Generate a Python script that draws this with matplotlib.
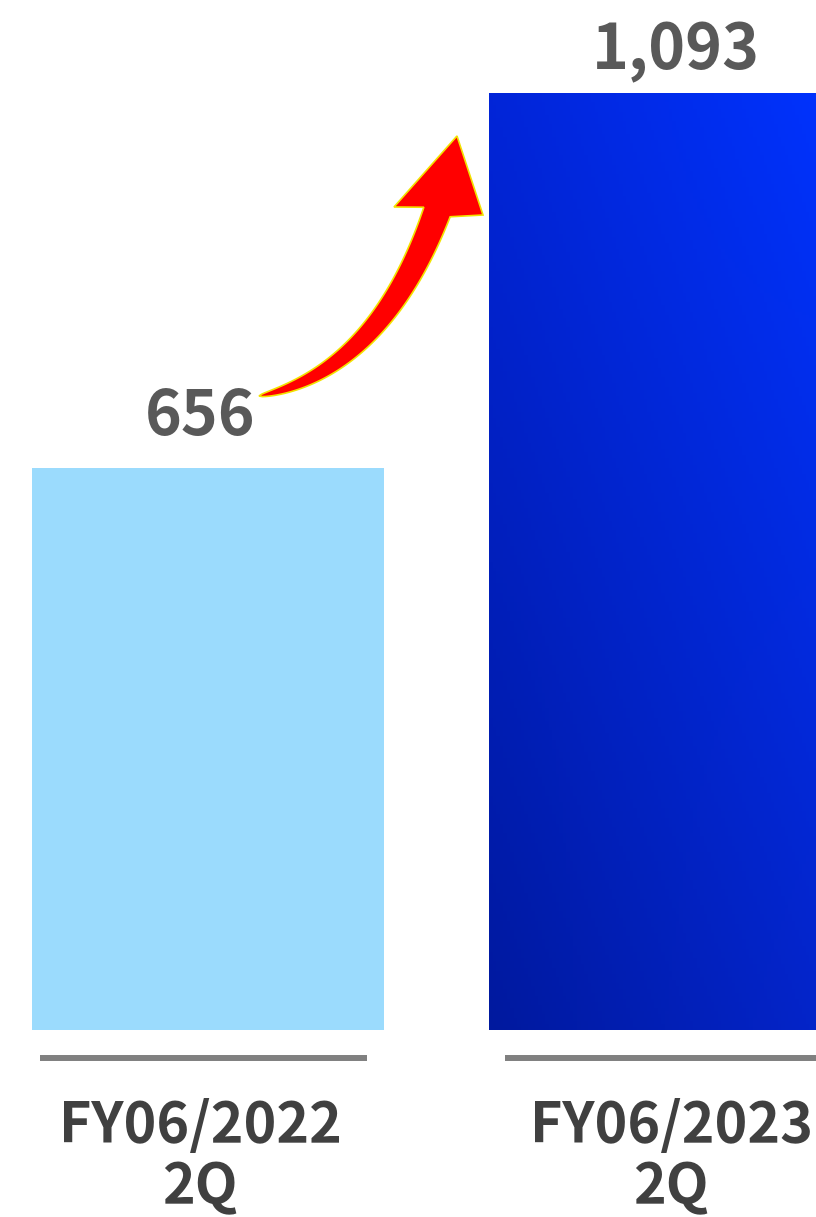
import numpy as np
import matplotlib.pyplot as plt
from matplotlib.patches import Polygon
from matplotlib.transforms import Affine2D

plt.rcParams['font.family'] = ['Noto Sans CJK JP', 'DejaVu Sans']

# data
periods = ['FY06/2022\n2Q', 'FY06/2023\n2Q']
values = [656, 1093]
value_labels = ['656', '1,093']

W, H = 816, 1217
fig = plt.figure(figsize=(W / 100, H / 100), dpi=100)
ax = fig.add_axes([0, 187 / H, 1, 1030 / H])
ax.axis('off')

x = np.arange(len(values))
bar_w = 0.77
bars = ax.bar(x, values, width=bar_w, color=['#9bdbfd', '#0225d8'], zorder=2)

# gradient fill on the second bar (dark bottom-left -> bright top-right)
bl = np.array([0x00, 0x19, 0x9e]) / 255
tl = np.array([0x02, 0x25, 0xd8]) / 255
tr = np.array([0x00, 0x33, 0xff]) / 255
br = np.array([0x04, 0x25, 0xcc]) / 255
u = np.linspace(0, 1, 100)[None, :, None]
v = np.linspace(0, 1, 300)[:, None, None]  # 0 = bottom
grad = (1 - u) * (1 - v) * bl + u * (1 - v) * br + (1 - u) * v * tl + u * v * tr
b2 = bars[1]
b2.set_facecolor('none')
im = ax.imshow(grad, origin='lower', aspect='auto', zorder=2,
               extent=[b2.get_x(), b2.get_x() + b2.get_width(), 0, values[1]])
im.set_clip_path(b2)
ax.set_xlim(-0.455, 1.330)
ax.set_ylim(0, 1202)

# value labels above the bars
label_dx = [-8, 11]
label_dy = [33, 24]
for xi, val, txt, dx, dy in zip(x, values, value_labels, label_dx, label_dy):
    ax.annotate(txt, (xi, val), xytext=(dx * 0.72, dy * 0.72), textcoords='offset points',
                ha='center', va='baseline', fontsize=45, fontweight='bold', color='#595959')

# gray baseline under each bar + category labels
xtr = ax.get_xaxis_transform()
ax_h = 1030
line_dx = [-0.01, 0.008]
text_dx = [-0.017, 0.013]
for xi, name, ldx, tdx in zip(x, periods, line_dx, text_dx):
    ax.plot([xi + ldx - 0.358, xi + ldx + 0.358], [-(1058 - 1030) / ax_h] * 2, transform=xtr,
            color='#808080', lw=4.3, solid_capstyle='butt', clip_on=False)
    line1, line2 = name.split('\n')
    ax.text(xi + tdx, -(1142 - 1030) / ax_h, line1, transform=xtr, ha='center', va='baseline',
            fontsize=40, fontweight='bold', color='#404040')
    ax.text(xi + tdx, -(1203 - 1030) / ax_h, line2, transform=xtr, ha='center', va='baseline',
            fontsize=40, fontweight='bold', color='#404040')

# red growth arrow (drawn in pixel space, y down)
px = Affine2D().scale(1 / W, -1 / H).translate(0, 1) + fig.transFigure
p0 = np.array([259, 396])
p1 = np.array([379, 372])
p2 = np.array([437, 212])
t = np.linspace(0, 1, 80)[:, None]
c = (1 - t) ** 2 * p0 + 2 * t * (1 - t) * p1 + t ** 2 * p2
d = 2 * (1 - t) * (p1 - p0) + 2 * t * (p2 - p1)
n = np.column_stack([d[:, 1], -d[:, 0]]) / np.linalg.norm(d, axis=1)[:, None]
w = 28 * t ** 0.55
left = c + n * w / 2
right = c - n * w / 2
head = np.array([[394, 207], [457, 136], [483, 215]])
pts = np.vstack([left, head, right[::-1]])
fig.patches.append(Polygon(pts, closed=True, transform=px, facecolor='#ff0000',
                           edgecolor='#f2e200', lw=1.2, zorder=5))

fig.savefig('out.png', dpi=100)
